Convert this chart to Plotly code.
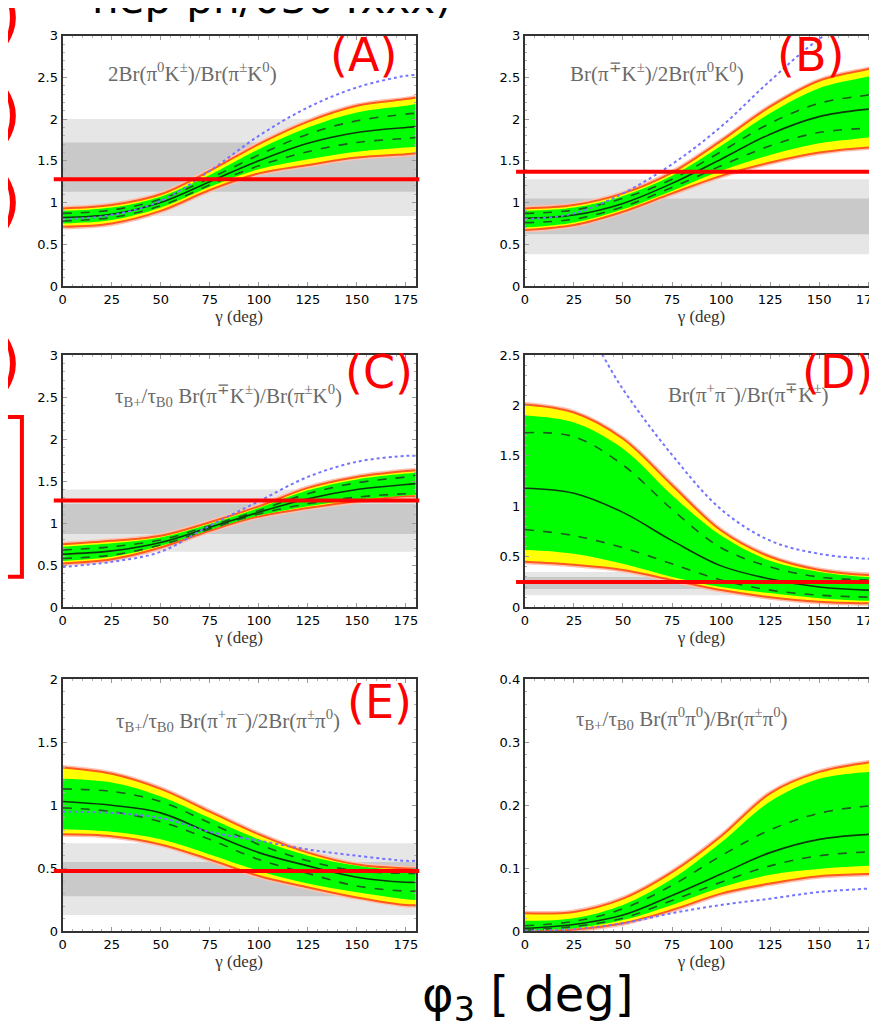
import plotly.graph_objects as go

W, H = 877, 1030

gamma = [0, 25, 50, 75, 100, 125, 150, 175, 180]

# ---------- Panel A : 2Br(pi0 K+)/Br(pi+ K0)
A_outer_hi = [0.93, 0.97, 1.10, 1.38, 1.70, 1.97, 2.16, 2.24, 2.26]
A_green_hi = [0.90, 0.94, 1.07, 1.33, 1.64, 1.90, 2.08, 2.16, 2.18]
A_dash_hi  = [0.87, 0.91, 1.04, 1.29, 1.57, 1.82, 1.98, 2.06, 2.07]
A_center   = [0.82, 0.86, 1.00, 1.25, 1.50, 1.71, 1.84, 1.90, 1.91]
A_dash_lo  = [0.78, 0.82, 0.96, 1.21, 1.44, 1.61, 1.72, 1.77, 1.78]
A_green_lo = [0.75, 0.79, 0.94, 1.19, 1.40, 1.52, 1.61, 1.66, 1.67]
A_outer_lo = [0.71, 0.75, 0.90, 1.15, 1.35, 1.45, 1.54, 1.58, 1.59]
A_blue     = [0.80, 0.85, 1.02, 1.38, 1.80, 2.14, 2.38, 2.52, 2.53]
A_gray_light = [0.84, 2.00]
A_gray_dark  = [1.13, 1.72]
A_exp = 1.28

# ---------- Panel B : Br(pi- K+)/2Br(pi0 K0)
B_outer_hi = [0.93, 0.97, 1.11, 1.36, 1.74, 2.15, 2.46, 2.60, 2.63]
B_green_hi = [0.90, 0.94, 1.08, 1.32, 1.68, 2.07, 2.37, 2.51, 2.54]
B_dash_hi  = [0.87, 0.91, 1.05, 1.28, 1.61, 1.95, 2.19, 2.29, 2.31]
B_center   = [0.81, 0.85, 0.99, 1.23, 1.52, 1.82, 2.03, 2.12, 2.13]
B_dash_lo  = [0.76, 0.80, 0.95, 1.18, 1.44, 1.68, 1.84, 1.89, 1.89]
B_green_lo = [0.70, 0.76, 0.92, 1.14, 1.38, 1.57, 1.71, 1.78, 1.80]
B_outer_lo = [0.67, 0.73, 0.89, 1.11, 1.32, 1.48, 1.60, 1.66, 1.66]
B_blue     = [0.80, 0.87, 1.11, 1.46, 1.91, 2.46, 2.96, 3.30, 3.35]
B_gray_light = [0.38, 1.28]
B_gray_dark  = [0.62, 1.05]
B_exp = 1.37

# ---------- Panel C : tau ratio * Br(pi- K+)/Br(pi+ K0)
C_outer_hi = [0.75, 0.79, 0.85, 1.01, 1.20, 1.42, 1.55, 1.62, 1.63]
C_green_hi = [0.72, 0.76, 0.83, 0.99, 1.18, 1.39, 1.52, 1.59, 1.60]
C_dash_hi  = [0.68, 0.72, 0.80, 0.97, 1.15, 1.35, 1.48, 1.55, 1.57]
C_center   = [0.63, 0.67, 0.77, 0.95, 1.13, 1.29, 1.40, 1.46, 1.47]
C_dash_lo  = [0.58, 0.62, 0.74, 0.93, 1.11, 1.23, 1.31, 1.35, 1.35]
C_green_lo = [0.55, 0.60, 0.73, 0.92, 1.09, 1.20, 1.28, 1.33, 1.34]
C_outer_lo = [0.52, 0.57, 0.71, 0.91, 1.08, 1.18, 1.26, 1.32, 1.32]
C_blue     = [0.48, 0.54, 0.66, 0.97, 1.26, 1.55, 1.73, 1.80, 1.80]
C_gray_light = [0.66, 1.40]
C_gray_dark  = [0.87, 1.23]
C_exp = 1.27

# ---------- Panel D : Br(pi+ pi-)/Br(pi- K+)
D_outer_hi = [2.01, 1.93, 1.67, 1.21, 0.76, 0.50, 0.37, 0.32, 0.32]
D_green_hi = [1.90, 1.83, 1.57, 1.11, 0.71, 0.46, 0.35, 0.30, 0.30]
D_dash_hi  = [1.73, 1.69, 1.41, 0.97, 0.59, 0.40, 0.30, 0.27, 0.27]
D_center   = [1.18, 1.13, 0.94, 0.66, 0.41, 0.28, 0.20, 0.17, 0.17]
D_dash_lo  = [0.77, 0.71, 0.59, 0.43, 0.27, 0.17, 0.12, 0.10, 0.10]
D_green_lo = [0.57, 0.53, 0.43, 0.30, 0.20, 0.14, 0.09, 0.065, 0.065]
D_outer_lo = [0.45, 0.42, 0.37, 0.27, 0.17, 0.10, 0.055, 0.04, 0.04]
D_blue     = [3.40, 2.95, 2.16, 1.51, 0.97, 0.66, 0.53, 0.48, 0.48]
D_gray_light = [0.12, 0.35]
D_gray_dark  = [0.18, 0.30]
D_exp = 0.25

# ---------- Panel E : tau ratio * Br(pi+ pi-)/2Br(pi+ pi0)
E_outer_hi = [1.30, 1.25, 1.13, 0.95, 0.77, 0.625, 0.53, 0.50, 0.50]
E_green_hi = [1.21, 1.18, 1.07, 0.90, 0.73, 0.60, 0.52, 0.48, 0.48]
E_dash_hi  = [1.13, 1.11, 1.03, 0.86, 0.69, 0.56, 0.48, 0.46, 0.46]
E_center   = [1.03, 1.00, 0.94, 0.78, 0.625, 0.52, 0.43, 0.39, 0.39]
E_dash_lo  = [0.98, 0.95, 0.87, 0.73, 0.57, 0.46, 0.36, 0.32, 0.32]
E_green_lo = [0.81, 0.79, 0.73, 0.61, 0.48, 0.38, 0.31, 0.255, 0.25]
E_outer_lo = [0.77, 0.755, 0.69, 0.57, 0.44, 0.35, 0.27, 0.21, 0.21]
E_blue     = [0.95, 0.94, 0.90, 0.79, 0.72, 0.65, 0.60, 0.56, 0.56]
E_gray_light = [0.13, 0.70]
E_gray_dark  = [0.28, 0.55]
E_exp = 0.48

# ---------- Panel F : tau ratio * Br(pi0 pi0)/Br(pi+ pi0)
F_outer_hi = [0.029, 0.031, 0.052, 0.094, 0.151, 0.219, 0.253, 0.268, 0.270]
F_green_hi = [0.017, 0.021, 0.042, 0.083, 0.141, 0.206, 0.242, 0.253, 0.254]
F_dash_hi  = [0.009, 0.016, 0.036, 0.073, 0.120, 0.161, 0.1875, 0.199, 0.200]
F_center   = [0.005, 0.011, 0.026, 0.057, 0.091, 0.125, 0.146, 0.154, 0.155]
F_dash_lo  = [0.002, 0.008, 0.021, 0.049, 0.078, 0.104, 0.120, 0.126, 0.126]
F_green_lo = [0.001, 0.005, 0.018, 0.042, 0.070, 0.090, 0.099, 0.104, 0.104]
F_outer_lo = [0.000, 0.003, 0.013, 0.034, 0.060, 0.076, 0.0875, 0.091, 0.091]
F_blue     = [0.001, 0.004, 0.013, 0.029, 0.042, 0.052, 0.0625, 0.068, 0.069]

x_tickvals = [0, 25, 50, 75, 100, 125, 150, 175]

panels = [
    dict(hi=A_outer_hi, ghi=A_green_hi, dhi=A_dash_hi, c=A_center, dlo=A_dash_lo, glo=A_green_lo, lo=A_outer_lo,
         blue=A_blue, gl=A_gray_light, gd=A_gray_dark, exp=A_exp, yr=[0, 3], dt=0.5, mdt=0.1,
         label="2Br(π<sup>0</sup>K<sup>±</sup>)/Br(π<sup>±</sup>K<sup>0</sup>)", tag="(A)"),
    dict(hi=B_outer_hi, ghi=B_green_hi, dhi=B_dash_hi, c=B_center, dlo=B_dash_lo, glo=B_green_lo, lo=B_outer_lo,
         blue=B_blue, gl=B_gray_light, gd=B_gray_dark, exp=B_exp, yr=[0, 3], dt=0.5, mdt=0.1,
         label="Br(π<sup>∓</sup>K<sup>±</sup>)/2Br(π<sup>0</sup>K<sup>0</sup>)", tag="(B)"),
    dict(hi=C_outer_hi, ghi=C_green_hi, dhi=C_dash_hi, c=C_center, dlo=C_dash_lo, glo=C_green_lo, lo=C_outer_lo,
         blue=C_blue, gl=C_gray_light, gd=C_gray_dark, exp=C_exp, yr=[0, 3], dt=0.5, mdt=0.1,
         label="τ<sub>B+</sub>/τ<sub>B0</sub> Br(π<sup>∓</sup>K<sup>±</sup>)/Br(π<sup>±</sup>K<sup>0</sup>)", tag="(C)"),
    dict(hi=D_outer_hi, ghi=D_green_hi, dhi=D_dash_hi, c=D_center, dlo=D_dash_lo, glo=D_green_lo, lo=D_outer_lo,
         blue=D_blue, gl=D_gray_light, gd=D_gray_dark, exp=D_exp, yr=[0, 2.5], dt=0.5, mdt=0.1,
         label="Br(π<sup>+</sup>π<sup>−</sup>)/Br(π<sup>∓</sup>K<sup>±</sup>)", tag="(D)"),
    dict(hi=E_outer_hi, ghi=E_green_hi, dhi=E_dash_hi, c=E_center, dlo=E_dash_lo, glo=E_green_lo, lo=E_outer_lo,
         blue=E_blue, gl=E_gray_light, gd=E_gray_dark, exp=E_exp, yr=[0, 2], dt=0.5, mdt=0.1,
         label="τ<sub>B+</sub>/τ<sub>B0</sub> Br(π<sup>+</sup>π<sup>−</sup>)/2Br(π<sup>±</sup>π<sup>0</sup>)", tag="(E)"),
    dict(hi=F_outer_hi, ghi=F_green_hi, dhi=F_dash_hi, c=F_center, dlo=F_dash_lo, glo=F_green_lo, lo=F_outer_lo,
         blue=F_blue, gl=None, gd=None, exp=None, yr=[0, 0.4], dt=0.1, mdt=0.02,
         label="τ<sub>B+</sub>/τ<sub>B0</sub> Br(π<sup>0</sup>π<sup>0</sup>)/Br(π<sup>±</sup>π<sup>0</sup>)", tag=None),
]

# pixel geometry of the panels (left, right, top, bottom)
boxes = [
    (51, 407, 21, 275), (517, 873, 21, 275),
    (51, 407, 345, 601), (517, 873, 345, 601),
    (51, 407, 674, 930), (517, 873, 674, 930),
]
label_pos = [(182, 58), (650, 58), (218, 386), (742, 384), (218, 716), (675, 714)]
tag_pos = [(354, 41), (805, 41), (370, 362), (832, 362), (370, 697), None]

ORANGE = "#ff5a1e"
HALO = "#ffc0b0"
fig = go.Figure()
shapes = []
annotations = []
layout_axes = {}

for i, (p, box) in enumerate(zip(panels, boxes)):
    n = "" if i == 0 else str(i + 1)
    xa, ya = "x" + n, "y" + n
    L, R, T, B = box
    common = dict(xaxis=xa, yaxis=ya, x=gamma, showlegend=False, hoverinfo="skip")
    # faint halo around the band edges
    for key in ("lo", "hi"):
        fig.add_trace(go.Scatter(y=p[key], mode="lines", line=dict(color=HALO, width=5, shape="spline"), **common))
    # yellow band with orange edge
    fig.add_trace(go.Scatter(y=p["lo"], mode="lines", line=dict(color=ORANGE, width=2, shape="spline"), **common))
    fig.add_trace(go.Scatter(y=p["hi"], mode="lines", fill="tonexty", fillcolor="#ffff00",
                             line=dict(color=ORANGE, width=2, shape="spline"), **common))
    # green band
    fig.add_trace(go.Scatter(y=p["glo"], mode="lines", line=dict(color="rgba(0,0,0,0)", width=0, shape="spline"), **common))
    fig.add_trace(go.Scatter(y=p["ghi"], mode="lines", fill="tonexty", fillcolor="#00ff00",
                             line=dict(color="rgba(0,0,0,0)", width=0, shape="spline"), **common))
    # dashed and central lines
    for key in ("dhi", "dlo"):
        fig.add_trace(go.Scatter(y=p[key], mode="lines",
                                 line=dict(color="#1f5a1f", width=1.6, dash="dash", shape="spline"), **common))
    fig.add_trace(go.Scatter(y=p["c"], mode="lines", line=dict(color="#0b3a0b", width=1.6, shape="spline"), **common))
    # blue dotted
    fig.add_trace(go.Scatter(y=p["blue"], mode="lines",
                             line=dict(color="#7474ff", width=2, dash="dot", shape="spline"), **common))

    # gray experimental bands + red line
    if p["gl"] is not None:
        shapes.append(dict(type="rect", xref=xa + " domain", yref=ya, x0=0, x1=1,
                           y0=p["gl"][0], y1=p["gl"][1], fillcolor="#e6e6e6", line=dict(width=0), layer="below"))
        shapes.append(dict(type="rect", xref=xa + " domain", yref=ya, x0=0, x1=1,
                           y0=p["gd"][0], y1=p["gd"][1], fillcolor="#c9c9c9", line=dict(width=0), layer="below"))
        shapes.append(dict(type="line", xref=xa + " domain", yref=ya, x0=-0.025, x1=1.01,
                           y0=p["exp"], y1=p["exp"], line=dict(color="#ff0000", width=4), layer="above"))

    xd = [L / W, R / W]
    yd = [1 - B / H, 1 - T / H]
    axis_common = dict(showline=True, linecolor="#333333", linewidth=2, mirror="allticks",
                       ticks="inside", ticklen=4, tickcolor="#9a9a9a", showgrid=False, zeroline=False,
                       tickfont=dict(family="DejaVu Sans", size=13, color="black"))
    layout_axes["xaxis" + n] = dict(domain=xd, range=[0, 180], tickvals=x_tickvals, anchor=ya,
                                    minor=dict(dtick=5, ticks="inside", ticklen=2, tickcolor="#b0b0b0"),
                                    title=dict(text="γ (deg)", standoff=0,
                                               font=dict(family="Liberation Serif", size=17, color="#333")),
                                    **axis_common)
    layout_axes["yaxis" + n] = dict(domain=yd, range=p["yr"], dtick=p["dt"], tick0=0, anchor=xa,
                                    minor=dict(dtick=p["mdt"], ticks="inside", ticklen=2, tickcolor="#b0b0b0"),
                                    **axis_common)

    lx, ly = label_pos[i]
    annotations.append(dict(text=p["label"], xref="paper", yref="paper", x=lx / W, y=1 - ly / H,
                            showarrow=False, xanchor="center", yanchor="middle",
                            font=dict(family="Liberation Serif", size=21, color="#6a6a6a")))
    if p["tag"]:
        tx, ty = tag_pos[i]
        annotations.append(dict(text=p["tag"], xref="paper", yref="paper", x=tx / W, y=1 - ty / H,
                                showarrow=False, xanchor="center", yanchor="middle",
                                font=dict(family="DejaVu Sans", size=46, color="#ff0000")))

# cropped header text and big axis label
annotations.append(dict(text="hep-ph/0304xxx)", xref="paper", yref="paper", x=262 / W, y=1,
                        showarrow=False, xanchor="center", yanchor="bottom", yshift=-10,
                        font=dict(family="DejaVu Sans", size=42, color="black")))
annotations.append(dict(text="φ<sub>3</sub> [ deg]", xref="paper", yref="paper", x=520 / W, y=1 - 997 / H,
                        showarrow=False, xanchor="center", yanchor="middle",
                        font=dict(family="DejaVu Sans", size=48, color="black")))
# cropped red marks on the left edge
for yy in (0, 100, 188, 352):
    annotations.append(dict(text=")", xref="paper", yref="paper", x=0, y=1 - yy / H, showarrow=False,
                            xanchor="right", yanchor="middle", xshift=11,
                            font=dict(family="DejaVu Sans", size=62, color="#ff0000")))
shapes.append(dict(type="path", xref="paper", yref="paper",
                   path=f"M {-5/W} {1-408/H} L {10/W} {1-408/H} L {10/W} {1-570/H} L {-5/W} {1-570/H}",
                   line=dict(color="#ff0000", width=4)))

fig.update_layout(width=W, height=H, margin=dict(l=0, r=0, t=0, b=0),
                  paper_bgcolor="white", plot_bgcolor="white",
                  shapes=shapes, annotations=annotations, **layout_axes)

fig.write_html("out.html")
